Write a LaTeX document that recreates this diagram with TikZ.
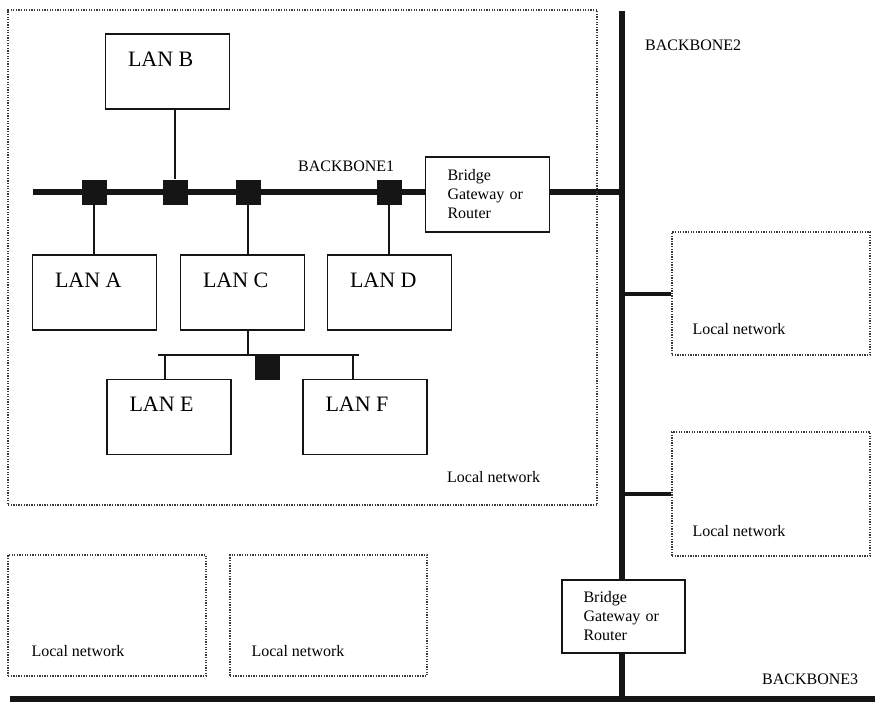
\documentclass[tikz,border=0pt]{standalone}
\usepackage{fontspec}
\setmainfont{Liberation Serif}
\usepackage{xcolor}
\usetikzlibrary{positioning,calc,backgrounds}
\definecolor{inkBlack}{HTML}{151515}
\definecolor{dotGray}{HTML}{3A3A3A}

\begin{document}
\begin{tikzpicture}[
    x=1pt,y=-1pt,
    every node/.style={font=\fontsize{16}{19}\selectfont},
    lan/.style={draw=inkBlack,line width=1.4pt,minimum width=124pt,minimum height=75pt,
                inner sep=0pt,label={[lantext]north west:#1}},
    lantext/.style={anchor=north west,inner sep=0pt,xshift=23pt,yshift=-18pt,
                font=\fontsize{22}{24}\selectfont},
    localnet/.style={draw=dotGray,line width=1.3pt,dash pattern=on 1.3pt off 1.3pt,inner sep=0pt},
    gate/.style={draw=inkBlack,fill=white,line width=1.4pt,minimum width=124pt,
                 minimum height=75pt,text width=80pt,align=left,inner sep=0pt},
    tap/.style={fill=inkBlack,minimum size=25pt,inner sep=0pt},
    bbone/.style={inkBlack,line width=6pt},
    stub/.style={inkBlack,line width=4pt},
    link/.style={inkBlack,line width=1.6pt},
    lab/.style={inner sep=0pt,anchor=west}
  ]
  \useasboundingbox (0,0) rectangle (875,707);
  %% Local networks (dotted)
  \node[localnet,minimum width=589pt,minimum height=495pt] (netMain) at (302.5,257.5) {};
  \node[localnet,minimum width=198pt,minimum height=123pt] (netR1) at (771,293.5) {};
  \node[localnet,minimum width=198pt,minimum height=124pt] (netR2) at (771,494) {};
  \node[localnet,minimum width=198pt,minimum height=121pt] (netL1) at (107,615.5) {};
  \node[localnet,minimum width=197pt,minimum height=121pt] (netL2) at (328.5,615.5) {};
  \node[lab] at (447,477) {Local network};
  \node[lab] at ($(netR1.south west)+(21,-27)$) {Local network};
  \node[lab] at ($(netR2.south west)+(21,-26)$) {Local network};
  \node[lab] at ($(netL1.south west)+(24,-26)$) {Local network};
  \node[lab] at ($(netL2.south west)+(22,-26)$) {Local network};
  %% LANs
  \node[lan=LAN B] (lanB) at (167.5,71.5) {};
  \node[lan=LAN A] (lanA) at (94.5,292.5) {};
  \node[lan=LAN C] (lanC) at (242.5,292.5) {};
  \node[lan=LAN D] (lanD) at (389.5,292.5) {};
  \node[lan=LAN E] (lanE) at (169,417) {};
  \node[lan=LAN F] (lanF) at (365,417) {};
  %% Taps on the backbone
  \node[tap] (sqA) at (94,192) {};
  \node[tap] (sqB) at (175,192) {};
  \node[tap] (sqC) at (248,192) {};
  \node[tap] (sqD) at (389,192) {};
  \node[tap] (sqEF) at (267,367) {};
  %% Bridges
  \node[gate] (gate1) at (487.5,194.5) {Bridge\\Gateway or\\Router};
  \node[gate,minimum width=123pt,minimum height=73pt] (gate2) at (623.5,616.5) {Bridge\\Gateway or\\Router};
  %% Backbone labels
  \node[lab] (bb1lab) at (298,166) {BACKBONE1};
  \node[lab] (bb2lab) at (645,45) {BACKBONE2};
  \node[lab] (bb3lab) at (762,679) {BACKBONE3};
  %% Bus ends
  \coordinate (bb1W) at (33,192);
  \coordinate (bb2N) at (622,11);
  \coordinate (bb2S) at (622,701);
  \coordinate (bb3W) at (10,699);
  \coordinate (bb3E) at (875,699);
  \coordinate (busW) at (158,355);
  \coordinate (busE) at (359,355);
  \coordinate (tickE) at (165,355);
  \coordinate (tickF) at (353,355);
  \begin{scope}[on background layer]
    %% Backbones
    \draw[bbone] (bb1W) -- (gate1.west |- bb1W);
    \draw[bbone] (gate1.east |- bb1W) -- (bb2N |- bb1W);
    \draw[bbone] (bb2N) -- (bb2S);
    \draw[bbone] (bb3W) -- (bb3E);
    \draw[stub] (netR1.west) -- (netR1.west -| bb2N);
    \draw[stub] (netR2.west) -- (netR2.west -| bb2N);
    %% Drops to the LANs
    \draw[link] (sqB) -- (sqB |- lanB.south);
    \draw[link] (sqA) -- (sqA |- lanA.north);
    \draw[link] (sqC) -- (sqC |- lanC.north);
    \draw[link] (sqD) -- (sqD |- lanD.north);
    \draw[link] (sqC |- lanC.south) -- (sqC |- busW);
    \draw[link] (busW) -- (busE);
    \draw[link] (tickE) -- (tickE |- lanE.north);
    \draw[link] (tickF) -- (tickF |- lanF.north);
  \end{scope}
\end{tikzpicture}
\end{document}
